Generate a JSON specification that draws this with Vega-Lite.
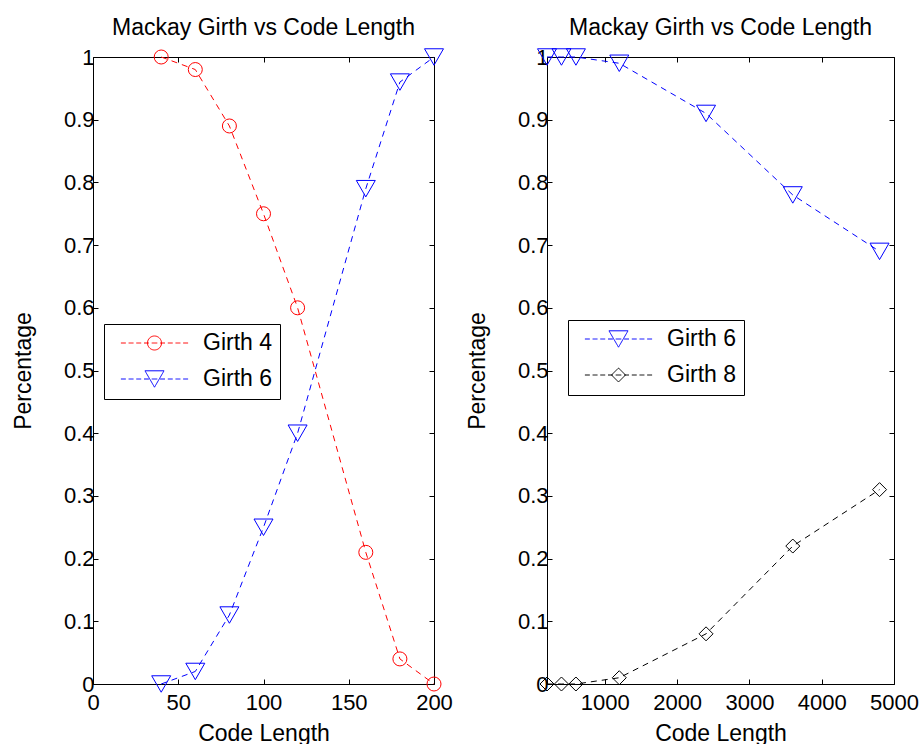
{
  "$schema": "https://vega.github.io/schema/vega-lite/v6.json",
  "background": "white",
  "padding": {"left": 11, "top": 16, "right": 0, "bottom": 0},
  "datasets": {
    "left": [
      {"series": "Girth 4", "len": 40, "pct": 1.0},
      {"series": "Girth 4", "len": 60, "pct": 0.98},
      {"series": "Girth 4", "len": 80, "pct": 0.89},
      {"series": "Girth 4", "len": 100, "pct": 0.75},
      {"series": "Girth 4", "len": 120, "pct": 0.60},
      {"series": "Girth 4", "len": 160, "pct": 0.21},
      {"series": "Girth 4", "len": 180, "pct": 0.04},
      {"series": "Girth 4", "len": 200, "pct": 0.0},
      {"series": "Girth 6", "len": 40, "pct": 0.0},
      {"series": "Girth 6", "len": 60, "pct": 0.02},
      {"series": "Girth 6", "len": 80, "pct": 0.11},
      {"series": "Girth 6", "len": 100, "pct": 0.25},
      {"series": "Girth 6", "len": 120, "pct": 0.40},
      {"series": "Girth 6", "len": 160, "pct": 0.79},
      {"series": "Girth 6", "len": 180, "pct": 0.96},
      {"series": "Girth 6", "len": 200, "pct": 1.0}
    ],
    "right": [
      {"series": "Girth 6", "len": 200, "pct": 1.0},
      {"series": "Girth 6", "len": 400, "pct": 1.0},
      {"series": "Girth 6", "len": 600, "pct": 1.0},
      {"series": "Girth 6", "len": 1200, "pct": 0.99},
      {"series": "Girth 6", "len": 2400, "pct": 0.91},
      {"series": "Girth 6", "len": 3600, "pct": 0.78},
      {"series": "Girth 6", "len": 4800, "pct": 0.69},
      {"series": "Girth 8", "len": 200, "pct": 0.0},
      {"series": "Girth 8", "len": 400, "pct": 0.0},
      {"series": "Girth 8", "len": 600, "pct": 0.0},
      {"series": "Girth 8", "len": 1200, "pct": 0.01},
      {"series": "Girth 8", "len": 2400, "pct": 0.08},
      {"series": "Girth 8", "len": 3600, "pct": 0.22},
      {"series": "Girth 8", "len": 4800, "pct": 0.31}
    ]
  },
  "spacing": 113,
  "bounds": "flush",
  "resolve": {"scale": {"x": "independent", "y": "independent", "stroke": "independent"}, "legend": {"stroke": "independent"}},
  "hconcat": [
    {
      "width": 341,
      "height": 627,
      "title": "Mackay Girth vs Code Length",
      "data": {"name": "left"},
      "resolve": {"axis": {"x": "independent", "y": "independent"}},
      "layer": [
        {
          "mark": {"type": "line", "strokeDash": [6, 5], "strokeWidth": 1},
          "encoding": {
            "x": {"field": "len", "type": "quantitative", "scale": {"domain": [0, 200], "nice": false}, "axis": {"title": "Code Length", "values": [0, 50, 100, 150, 200], "format": "d"}},
            "y": {"field": "pct", "type": "quantitative", "scale": {"domain": [0, 1], "nice": false}, "axis": {"title": "Percentage", "values": [0, 0.1, 0.2, 0.3, 0.4, 0.5, 0.6, 0.7, 0.8, 0.9, 1], "format": "~g"}},
            "stroke": {
              "field": "series", "type": "nominal",
              "scale": {"domain": ["Girth 4", "Girth 6"], "range": ["#ff0000", "#0000ff"]},
              "legend": {
                "title": null, "orient": "none", "legendX": 11, "legendY": 267,
                "strokeColor": "black", "fillColor": "white", "padding": 7.5,
                "symbolSize": 196, "symbolStrokeWidth": 1, "labelFontSize": 23, "labelColor": "black",
                "labelOffset": 68.5, "rowPadding": 12,
                "encode": {"symbols": {"update": {
                  "shape": {"signal": "datum.value === 'Girth 4' ? 'M-0.3,0H0.4M0.8,0H1.5M1.9,0H2.6M3,0H3.7M4.1,0H4.9M5.3,0H6M6.4,0H7.1M7.5,0H8.2M8.6,0H9.3M5.5,0A1,1 0 1,1 3.5,0A1,1 0 1,1 5.5,0Z' : 'M-0.3,0H0.4M0.8,0H1.5M1.9,0H2.6M3,0H3.7M4.1,0H4.9M5.3,0H6M6.4,0H7.1M7.5,0H8.2M8.6,0H9.3M3.14,-1.17L5.86,-1.17L4.5,1.17Z'"},
                  "fill": {"value": "transparent"},
                  "strokeDash": {"value": [1, 0]},
                  "opacity": {"value": 1}
                }}}
              }
            }
          }
        },
        {
          "transform": [{"filter": "datum.series === 'Girth 4'"}],
          "mark": {"type": "point", "shape": "circle", "size": 196, "filled": false, "strokeWidth": 1, "opacity": 1, "stroke": "#ff0000"},
          "encoding": {
            "x": {"field": "len", "type": "quantitative", "axis": {"orient": "top", "labels": false, "title": null, "values": [0, 50, 100, 150, 200]}},
            "y": {"field": "pct", "type": "quantitative", "axis": {"orient": "right", "labels": false, "title": null, "values": [0, 0.1, 0.2, 0.3, 0.4, 0.5, 0.6, 0.7, 0.8, 0.9, 1]}}
          }
        },
        {
          "transform": [{"filter": "datum.series === 'Girth 6'"}],
          "mark": {"type": "point", "shape": "triangle-down", "size": 361, "filled": false, "strokeWidth": 1, "opacity": 1, "stroke": "#0000ff"},
          "encoding": {
            "x": {"field": "len", "type": "quantitative", "axis": null},
            "y": {"field": "pct", "type": "quantitative", "axis": null}
          }
        }
      ]
    },
    {
      "width": 347,
      "height": 627,
      "title": "Mackay Girth vs Code Length",
      "data": {"name": "right"},
      "resolve": {"axis": {"x": "independent", "y": "independent"}},
      "layer": [
        {
          "mark": {"type": "line", "strokeDash": [6, 5], "strokeWidth": 1},
          "encoding": {
            "x": {"field": "len", "type": "quantitative", "scale": {"domain": [200, 5000], "nice": false, "zero": false}, "axis": {"title": "Code Length", "values": [1000, 2000, 3000, 4000, 5000], "format": "d"}},
            "y": {"field": "pct", "type": "quantitative", "scale": {"domain": [0, 1], "nice": false}, "axis": {"title": "Percentage", "values": [0, 0.1, 0.2, 0.3, 0.4, 0.5, 0.6, 0.7, 0.8, 0.9, 1], "format": "~g"}},
            "stroke": {
              "field": "series", "type": "nominal",
              "scale": {"domain": ["Girth 6", "Girth 8"], "range": ["#0000ff", "#000000"]},
              "legend": {
                "title": null, "orient": "none", "legendX": 21, "legendY": 263,
                "strokeColor": "black", "fillColor": "white", "padding": 7.5,
                "symbolSize": 196, "symbolStrokeWidth": 1, "labelFontSize": 23, "labelColor": "black",
                "labelOffset": 68.5, "rowPadding": 12,
                "encode": {"symbols": {"update": {
                  "shape": {"signal": "datum.value === 'Girth 6' ? 'M-0.3,0H0.4M0.8,0H1.5M1.9,0H2.6M3,0H3.7M4.1,0H4.9M5.3,0H6M6.4,0H7.1M7.5,0H8.2M8.6,0H9.3M3.14,-1.17L5.86,-1.17L4.5,1.17Z' : 'M-0.3,0H0.4M0.8,0H1.5M1.9,0H2.6M3,0H3.7M4.1,0H4.9M5.3,0H6M6.4,0H7.1M7.5,0H8.2M8.6,0H9.3M4.5,-1L5.5,0L4.5,1L3.5,0Z'"},
                  "fill": {"value": "transparent"},
                  "strokeDash": {"value": [1, 0]},
                  "opacity": {"value": 1}
                }}}
              }
            }
          }
        },
        {
          "transform": [{"filter": "datum.series === 'Girth 6'"}],
          "mark": {"type": "point", "shape": "triangle-down", "size": 361, "filled": false, "strokeWidth": 1, "opacity": 1, "stroke": "#0000ff"},
          "encoding": {
            "x": {"field": "len", "type": "quantitative", "axis": {"orient": "top", "labels": false, "title": null, "values": [1000, 2000, 3000, 4000, 5000]}},
            "y": {"field": "pct", "type": "quantitative", "axis": {"orient": "right", "labels": false, "title": null, "values": [0, 0.1, 0.2, 0.3, 0.4, 0.5, 0.6, 0.7, 0.8, 0.9, 1]}}
          }
        },
        {
          "transform": [{"filter": "datum.series === 'Girth 8'"}],
          "mark": {"type": "point", "shape": "diamond", "size": 196, "filled": false, "strokeWidth": 1, "opacity": 1, "stroke": "#000000"},
          "encoding": {
            "x": {"field": "len", "type": "quantitative", "axis": null},
            "y": {"field": "pct", "type": "quantitative", "axis": null}
          }
        }
      ]
    }
  ],
  "config": {
    "font": "Liberation Sans",
    "view": {"stroke": "black", "strokeWidth": 1},
    "axis": {"domain": false, "grid": false, "tickSize": -5, "tickColor": "black", "tickWidth": 1, "labelFontSize": 22, "labelColor": "black", "titleFontSize": 23, "titleFontWeight": "normal", "titleColor": "black", "labelFont": "Liberation Sans", "titleFont": "Liberation Sans", "labelFlush": false, "labelOverlap": false},
    "axisX": {"labelPadding": 13, "titlePadding": 9},
    "axisY": {"labelPadding": 4, "titlePadding": 28},
    "title": {"fontSize": 23, "fontWeight": "normal", "color": "black", "font": "Liberation Sans", "offset": 6},
    "legend": {"labelFont": "Liberation Sans"}
  }
}
